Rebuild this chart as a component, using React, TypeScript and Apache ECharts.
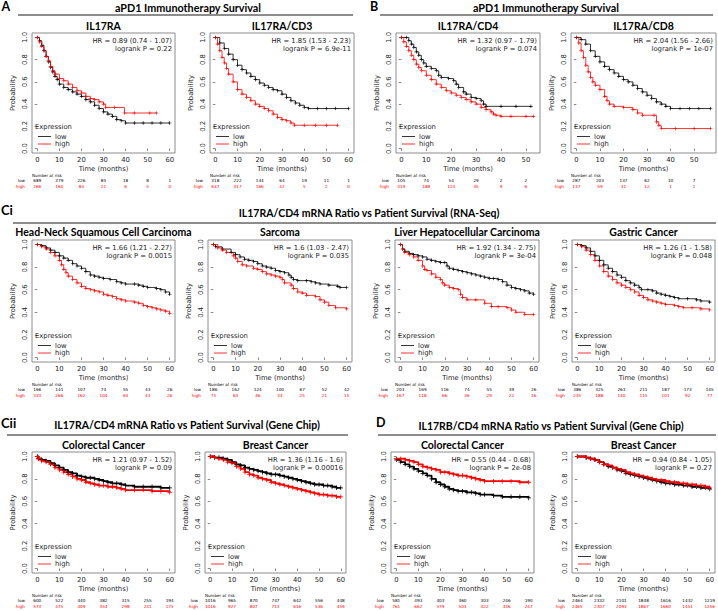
import React, { useEffect, useRef } from 'react';
import * as echarts from 'echarts';

// ---------- tick labels ----------
const ticks60 = [0, 10, 20, 30, 40, 50, 60];
const ticks50 = [0, 10, 20, 30, 40, 50];
const yTicks = [0, 0.2, 0.4, 0.6, 0.8, 1.0];

// ---------- A: aPD1 IL17RA ----------
const a1Low = [[0,1],[1,0.97],[2,0.93],[3,0.88],[4,0.83],[5,0.78],[6,0.73],[7,0.69],[8,0.65],[9,0.62],[10,0.58],[12,0.55],[14,0.53],[16,0.51],[18,0.49],[20,0.47],[22,0.44],[24,0.42],[26,0.39],[28,0.36],[30,0.33],[32,0.31],[34,0.29],[36,0.26],[38,0.25],[40,0.23],[44,0.23],[48,0.23],[52,0.23],[56,0.23],[60,0.23]];
const a1High = [[0,1],[1,0.96],[2,0.92],[3,0.88],[4,0.83],[5,0.79],[6,0.74],[7,0.7],[8,0.67],[10,0.63],[12,0.61],[14,0.58],[16,0.55],[18,0.52],[20,0.5],[22,0.47],[24,0.45],[26,0.44],[28,0.42],[30,0.4],[31,0.37],[35,0.37],[39.5,0.32],[44,0.32],[51,0.32],[54,0.32]];
const a1LowRisk = [689, 379, 226, 85, 18, 8, 1];
const a1HighRisk = [266, 160, 84, 21, 6, 5, 0];

// ---------- A: aPD1 IL17RA/CD3 ----------
const a2Low = [[0,1],[2,0.95],[4,0.9],[6,0.85],[8,0.8],[10,0.75],[12,0.71],[14,0.68],[16,0.65],[18,0.62],[20,0.59],[22,0.57],[24,0.55],[26,0.53],[28,0.52],[30,0.49],[32,0.46],[34,0.43],[36,0.41],[38,0.39],[40,0.37],[42,0.36],[46,0.36],[50,0.36],[54,0.36],[60,0.36]];
const a2High = [[0,1],[1,0.94],[2,0.88],[3,0.82],[4,0.77],[5,0.72],[6,0.67],[8,0.6],[10,0.53],[12,0.49],[14,0.46],[16,0.43],[18,0.4],[20,0.38],[22,0.36],[24,0.34],[26,0.31],[28,0.28],[30,0.26],[32,0.25],[34,0.23],[35.5,0.21],[40,0.21],[45,0.21],[50,0.21],[55,0.21]];
const a2LowRisk = [318, 222, 144, 64, 19, 11, 1];
const a2HighRisk = [637, 317, 166, 42, 5, 2, 0];

// ---------- B: aPD1 IL17RA/CD4 ----------
const b1Low = [[0,1],[2,1],[3,0.97],[4,0.94],[5,0.91],[6,0.87],[7,0.84],[8,0.8],[9,0.77],[10,0.74],[12,0.72],[14,0.7],[15,0.66],[16,0.64],[19,0.63],[21,0.61],[22,0.58],[23,0.55],[25,0.51],[26,0.49],[28,0.46],[30,0.45],[32,0.43],[33,0.4],[34,0.38],[40,0.38],[46,0.38],[52,0.38]];
const b1High = [[0,1],[1,0.96],[2,0.92],[3,0.88],[4,0.84],[5,0.8],[6,0.76],[7,0.73],[8,0.7],[10,0.66],[12,0.62],[14,0.58],[16,0.55],[18,0.52],[20,0.5],[22,0.48],[24,0.46],[26,0.44],[28,0.42],[30,0.4],[32,0.37],[34,0.35],[36,0.33],[37,0.31],[38,0.3],[40,0.29],[44,0.29],[50,0.29],[53,0.29]];
const b1LowRisk = [105, 74, 54, 29, 2, 2];
const b1HighRisk = [319, 188, 114, 45, 9, 6];

// ---------- B: aPD1 IL17RA/CD8 ----------
const b2Low = [[0,1],[2,0.98],[4,0.94],[6,0.88],[8,0.83],[10,0.78],[12,0.74],[14,0.71],[16,0.68],[18,0.65],[20,0.62],[22,0.6],[24,0.57],[26,0.54],[28,0.51],[30,0.48],[32,0.45],[34,0.42],[36,0.4],[38,0.38],[40,0.36],[44,0.36],[48,0.36],[52,0.36],[57,0.36]];
const b2High = [[0,1],[1,0.95],[2,0.88],[3,0.82],[4,0.75],[5,0.69],[6,0.64],[7,0.6],[8,0.57],[10,0.53],[12,0.47],[13,0.43],[14,0.4],[16,0.38],[20,0.37],[24,0.35],[26,0.32],[28,0.3],[33,0.3],[34,0.24],[35,0.21],[36,0.18],[42,0.18],[50,0.18],[57,0.18]];
const b2LowRisk = [287, 203, 137, 62, 10, 7];
const b2HighRisk = [137, 59, 31, 12, 1, 1];

// ---------- Ci: RNA-Seq ----------
const hnLow = [[0,1],[2,0.99],[4,0.97],[6,0.95],[8,0.93],[10,0.9],[12,0.88],[14,0.86],[16,0.83],[18,0.81],[20,0.79],[22,0.76],[24,0.73],[26,0.72],[28,0.71],[30,0.7],[33,0.69],[36,0.67],[38,0.66],[40,0.65],[44,0.65],[46,0.64],[48,0.63],[50,0.62],[54,0.61],[56,0.6],[58,0.58],[60,0.56]];
const hnHigh = [[0,1],[2,0.98],[4,0.96],[6,0.93],[8,0.9],[10,0.86],[11,0.82],[12,0.78],[13,0.75],[14,0.72],[16,0.69],[18,0.66],[20,0.63],[22,0.61],[24,0.6],[26,0.59],[28,0.58],[30,0.56],[32,0.55],[34,0.54],[36,0.52],[38,0.51],[40,0.5],[44,0.49],[46,0.48],[48,0.46],[50,0.45],[52,0.44],[54,0.43],[56,0.42],[58,0.41],[60,0.39]];
const hnLowRisk = [166, 141, 107, 74, 55, 43, 26];
const hnHighRisk = [333, 266, 162, 104, 64, 43, 26];

const saLow = [[0,1],[1,0.98],[4,0.96],[8,0.93],[10,0.91],[12,0.89],[14,0.87],[16,0.86],[18,0.85],[20,0.83],[22,0.81],[24,0.8],[26,0.79],[28,0.77],[30,0.76],[32,0.75],[34,0.73],[35,0.71],[36,0.69],[38,0.68],[42,0.68],[44,0.67],[46,0.66],[48,0.65],[52,0.64],[56,0.63],[57,0.62],[60,0.62]];
const saHigh = [[0,1],[2,0.97],[4,0.95],[6,0.93],[9,0.9],[10,0.88],[11,0.85],[13,0.82],[15,0.81],[18,0.79],[20,0.78],[22,0.76],[24,0.74],[26,0.73],[28,0.72],[30,0.71],[31,0.69],[32,0.66],[35,0.64],[36,0.61],[38,0.58],[40,0.57],[42,0.55],[46,0.54],[48,0.51],[50,0.49],[52,0.46],[55,0.44],[60,0.43]];
const saLowRisk = [186, 162, 124, 100, 67, 52, 42];
const saHighRisk = [73, 63, 46, 34, 25, 21, 15];

const liLow = [[0,1],[1,0.96],[2,0.94],[4,0.92],[6,0.91],[8,0.9],[10,0.89],[12,0.87],[14,0.86],[16,0.85],[18,0.84],[20,0.84],[21,0.81],[22,0.79],[24,0.78],[26,0.77],[28,0.76],[30,0.75],[32,0.74],[34,0.73],[36,0.72],[38,0.71],[40,0.7],[42,0.7],[44,0.69],[46,0.67],[48,0.64],[50,0.62],[52,0.61],[54,0.6],[56,0.59],[58,0.57],[60,0.56]];
const liHigh = [[0,1],[1,0.96],[2,0.93],[4,0.91],[6,0.89],[8,0.86],[10,0.81],[11,0.78],[12,0.77],[14,0.74],[16,0.71],[18,0.69],[19,0.66],[20,0.64],[22,0.62],[24,0.61],[26,0.6],[27,0.56],[28,0.53],[30,0.51],[34,0.51],[38,0.48],[41,0.45],[44,0.45],[48,0.44],[50,0.42],[52,0.4],[56,0.38],[60,0.38]];
const liLowRisk = [203, 169, 116, 74, 55, 39, 26];
const liHighRisk = [167, 118, 66, 36, 29, 22, 16];

const gaLow = [[0,1],[2,0.99],[4,0.97],[6,0.94],[8,0.9],[10,0.86],[12,0.82],[14,0.79],[16,0.76],[18,0.73],[20,0.71],[22,0.68],[24,0.66],[26,0.64],[28,0.62],[29,0.6],[32,0.6],[34,0.59],[36,0.57],[38,0.56],[40,0.55],[42,0.54],[44,0.53],[46,0.52],[50,0.52],[54,0.51],[56,0.5],[60,0.49]];
const gaHigh = [[0,1],[2,0.98],[4,0.95],[6,0.91],[8,0.86],[10,0.81],[12,0.76],[14,0.72],[16,0.69],[18,0.66],[20,0.64],[22,0.62],[24,0.6],[26,0.58],[28,0.55],[30,0.53],[32,0.51],[34,0.5],[36,0.49],[38,0.48],[40,0.47],[44,0.46],[46,0.45],[48,0.44],[52,0.44],[56,0.43],[60,0.42]];
const gaLowRisk = [386, 325, 263, 211, 187, 173, 145];
const gaHighRisk = [245, 188, 140, 115, 101, 92, 77];

// ---------- Cii: IL17RA/CD4 Gene Chip ----------
const ccLow = [[0,1],[0.5,0.98],[2,0.97],[4,0.96],[6,0.94],[8,0.92],[10,0.9],[12,0.88],[14,0.86],[16,0.85],[18,0.83],[20,0.82],[22,0.81],[24,0.81],[26,0.8],[28,0.79],[30,0.78],[32,0.77],[34,0.76],[36,0.76],[38,0.75],[40,0.74],[44,0.73],[48,0.73],[52,0.73],[56,0.72],[60,0.72]];
const ccHigh = [[0,1],[0.5,0.98],[2,0.96],[4,0.95],[6,0.93],[8,0.9],[10,0.88],[12,0.86],[14,0.84],[16,0.82],[18,0.8],[20,0.79],[22,0.77],[24,0.76],[26,0.75],[28,0.74],[30,0.74],[32,0.73],[34,0.73],[36,0.72],[38,0.71],[40,0.7],[44,0.7],[48,0.7],[52,0.69],[56,0.69],[60,0.68]];
const ccLowRisk = [600, 522, 440, 382, 315, 255, 194];
const ccHighRisk = [573, 475, 409, 354, 298, 231, 175];

const cbLow = [[0,1],[2,0.99],[4,0.99],[6,0.98],[8,0.97],[10,0.95],[12,0.93],[14,0.92],[16,0.9],[18,0.89],[20,0.88],[22,0.87],[24,0.86],[26,0.85],[28,0.84],[30,0.84],[32,0.83],[34,0.82],[36,0.81],[38,0.8],[40,0.79],[42,0.78],[44,0.77],[46,0.76],[48,0.75],[50,0.75],[52,0.74],[54,0.74],[56,0.73],[58,0.72],[60,0.72]];
const cbHigh = [[0,1],[2,0.99],[4,0.98],[6,0.97],[8,0.95],[10,0.94],[12,0.91],[14,0.89],[16,0.86],[18,0.84],[20,0.83],[22,0.81],[24,0.8],[26,0.79],[28,0.77],[30,0.76],[32,0.75],[34,0.74],[36,0.73],[38,0.72],[40,0.71],[42,0.7],[44,0.69],[46,0.68],[48,0.67],[50,0.66],[52,0.66],[54,0.65],[56,0.65],[58,0.64],[60,0.64]];
const cbLowRisk = [1016, 965, 870, 747, 642, 556, 448];
const cbHighRisk = [1016, 927, 807, 713, 616, 536, 459];

// ---------- D: IL17RB/CD4 Gene Chip ----------
const dcLow = [[0,0.97],[2,0.95],[4,0.93],[6,0.91],[8,0.89],[10,0.87],[12,0.85],[14,0.83],[16,0.8],[18,0.77],[20,0.75],[22,0.73],[24,0.71],[26,0.7],[28,0.69],[30,0.69],[32,0.68],[34,0.68],[36,0.67],[38,0.66],[40,0.66],[44,0.65],[48,0.64],[52,0.64],[56,0.64],[60,0.63]];
const dcHigh = [[0,0.98],[2,0.98],[4,0.97],[6,0.96],[8,0.95],[10,0.93],[12,0.91],[14,0.9],[16,0.89],[18,0.88],[20,0.86],[22,0.86],[24,0.85],[26,0.84],[28,0.83],[30,0.83],[32,0.82],[34,0.81],[36,0.8],[38,0.79],[40,0.78],[44,0.78],[48,0.78],[52,0.78],[56,0.77],[60,0.77]];
const dcLowRisk = [581, 493, 403, 360, 303, 246, 190];
const dcHighRisk = [761, 662, 579, 503, 422, 336, 247];

const dbLow = [[0,1],[4,0.99],[6,0.98],[8,0.97],[10,0.95],[12,0.93],[14,0.91],[16,0.9],[18,0.88],[20,0.87],[22,0.85],[24,0.84],[26,0.83],[28,0.82],[30,0.81],[32,0.8],[34,0.79],[36,0.78],[38,0.77],[40,0.76],[42,0.76],[44,0.75],[46,0.75],[48,0.74],[50,0.74],[52,0.73],[54,0.73],[56,0.72],[58,0.72],[60,0.71]];
const dbHigh = [[0,1],[4,0.99],[6,0.98],[8,0.97],[10,0.95],[12,0.93],[14,0.92],[16,0.9],[18,0.89],[20,0.88],[22,0.86],[24,0.85],[26,0.84],[28,0.83],[30,0.82],[32,0.81],[34,0.8],[36,0.79],[38,0.79],[40,0.78],[42,0.77],[44,0.77],[46,0.76],[48,0.76],[50,0.75],[52,0.75],[54,0.74],[56,0.74],[58,0.73],[60,0.72]];
const dbLowRisk = [2464, 2332, 2101, 1848, 1616, 1432, 1219];
const dbHighRisk = [2465, 2307, 2093, 1867, 1660, 1451, 1256];

// ---------- texts ----------
const panelTitles = ['IL17RA', 'IL17RA/CD3', 'IL17RA/CD4', 'IL17RA/CD8', 'Head-Neck Squamous Cell Carcinoma', 'Sarcoma', 'Liver Hepatocellular Carcinoma', 'Gastric Cancer', 'Colorectal Cancer', 'Breast Cancer', 'Colorectal Cancer', 'Breast Cancer'];
const hrTexts = ['HR = 0.89 (0.74 - 1.07)', 'HR = 1.85 (1.53 - 2.23)', 'HR = 1.32 (0.97 - 1.79)', 'HR = 2.04 (1.56 - 2.66)', 'HR = 1.66 (1.21 - 2.27)', 'HR = 1.6 (1.03 - 2.47)', 'HR = 1.92 (1.34 - 2.75)', 'HR = 1.26 (1 - 1.58)', 'HR = 1.21 (0.97 - 1.52)', 'HR = 1.36 (1.16 - 1.6)', 'HR = 0.55 (0.44 - 0.68)', 'HR = 0.94 (0.84 - 1.05)'];
const pTexts = ['logrank P = 0.22', 'logrank P = 6.9e-11', 'logrank P = 0.074', 'logrank P = 1e-07', 'logrank P = 0.0015', 'logrank P = 0.035', 'logrank P = 3e-04', 'logrank P = 0.048', 'logrank P = 0.09', 'logrank P = 0.00016', 'logrank P = 2e-08', 'logrank P = 0.27'];

const lowSeries = [a1Low, a2Low, b1Low, b2Low, hnLow, saLow, liLow, gaLow, ccLow, cbLow, dcLow, dbLow];
const highSeries = [a1High, a2High, b1High, b2High, hnHigh, saHigh, liHigh, gaHigh, ccHigh, cbHigh, dcHigh, dbHigh];
const lowRisks = [a1LowRisk, a2LowRisk, b1LowRisk, b2LowRisk, hnLowRisk, saLowRisk, liLowRisk, gaLowRisk, ccLowRisk, cbLowRisk, dcLowRisk, dbLowRisk];
const highRisks = [a1HighRisk, a2HighRisk, b1HighRisk, b2HighRisk, hnHighRisk, saHighRisk, liHighRisk, gaHighRisk, ccHighRisk, cbHighRisk, dcHighRisk, dbHighRisk];
const xMaxes = [60, 60, 53.5, 57, 60, 60, 60, 60, 60, 60, 60, 60];

// ---------- layout (pixel boxes: left, right, top, bottom) ----------
const boxes = [
  [32, 175, 33, 153], [210, 354, 33, 153], [396, 540, 33, 153], [571, 716, 33, 153],
  [32, 175, 240, 362], [208, 352, 240, 362], [395, 539, 240, 362], [572, 715, 240, 362],
  [32, 175, 452, 573], [205, 346, 452, 573], [391, 534, 452, 573], [572, 715, 452, 573],
];
const titleYs = [26, 26, 26, 26, 232, 232, 232, 232, 445, 445, 445, 445];

const FONT = 'DejaVu Sans';
const TFONT = 'Lato';
const PLUS = 'path://M-1,-0.18H1V0.18H-1Z M-0.18,-1H0.18V1H-0.18Z';

function txt(text: string, x: number, y: number, opts: any = {}) {
  const align = opts.align || 'left';
  return {
    type: 'text',
    silent: true,
    z: 10,
    style: {
      text, x, y,
      fill: opts.fill || '#000',
      fontSize: opts.size || 6.8,
      fontFamily: opts.family || FONT,
      fontWeight: opts.weight || 'normal',
      textAlign: align, align,
      textVerticalAlign: 'middle', verticalAlign: 'middle',
    },
  };
}
function seg(x1: number, y1: number, x2: number, y2: number, stroke: string, w: number) {
  return { type: 'line', silent: true, z: 10, shape: { x1, y1, x2, y2 }, style: { stroke, lineWidth: w } };
}

function buildOption() {
  const grid: any[] = [];
  const xAxis: any[] = [];
  const yAxis: any[] = [];
  const series: any[] = [];
  const graphic: any[] = [];

  // section headers
  graphic.push(txt('A', 1.5, 6, { weight: 'bold', family: TFONT, size: 12.5 }));
  graphic.push(txt('aPD1 Immunotherapy Survival', 188, 7, { weight: 'bold', family: TFONT, size: 10.8, align: 'center' }));
  graphic.push(seg(18, 15, 353, 15, '#000', 0.9));
  graphic.push(txt('B', 370, 6, { weight: 'bold', family: TFONT, size: 12.5 }));
  graphic.push(txt('aPD1 Immunotherapy Survival', 546, 7, { weight: 'bold', family: TFONT, size: 10.8, align: 'center' }));
  graphic.push(seg(380, 15, 713, 15, '#000', 0.9));

  graphic.push(txt('Ci', 1, 210, { weight: 'bold', family: TFONT, size: 13 }));
  graphic.push(txt('IL17RA/CD4 mRNA Ratio vs Patient Survival (RNA-Seq)', 369, 213, { weight: 'bold', family: TFONT, size: 10.5, align: 'center' }));
  graphic.push(seg(13, 223, 716, 223, '#000', 0.9));

  graphic.push(txt('Cii', 1, 423, { weight: 'bold', family: TFONT, size: 13 }));
  graphic.push(txt('IL17RA/CD4 mRNA Ratio vs Patient Survival (Gene Chip)', 187, 425, { weight: 'bold', family: TFONT, size: 10.5, align: 'center' }));
  graphic.push(seg(7, 435, 348, 435, '#000', 0.9));
  graphic.push(txt('D', 376, 422, { weight: 'bold', family: TFONT, size: 12.5 }));
  graphic.push(txt('IL17RB/CD4 mRNA Ratio vs Patient Survival (Gene Chip)', 551, 426, { weight: 'bold', family: TFONT, size: 10.5, align: 'center' }));
  graphic.push(seg(378, 435, 716, 435, '#000', 0.9));

  boxes.forEach((b, i) => {
    const [L, R, T, B] = b;
    const M = xMaxes[i];
    const ticks = M >= 60 ? ticks60 : ticks50;
    const lowRisk = lowRisks[i];
    const highRisk = highRisks[i];
    const chip = i >= 8;
    grid.push({
      left: L, top: T, width: R - L, height: B - T, show: true,
      borderColor: '#707070', borderWidth: 0.8, backgroundColor: 'rgba(0,0,0,0)',
      outerBoundsMode: 'none', containLabel: false,
    });
    const xmin = -0.04 * M;
    const xmax = 1.04 * M;
    const xi = xAxis.length;
    xAxis.push({
      gridIndex: i, type: 'value', min: xmin, max: xmax, position: 'bottom',
      axisLine: { show: false }, splitLine: { show: false },
      axisTick: { show: true, inside: false, length: 2.5, customValues: ticks, lineStyle: { color: '#555', width: 0.7 } },
      axisLabel: { customValues: ticks, fontSize: 6.8, fontFamily: FONT, color: '#222', margin: 3 },
      name: 'Time (months)', nameLocation: 'middle', nameGap: 12,
      nameTextStyle: { fontSize: 6.8, fontFamily: FONT, color: '#222' },
    });
    xAxis.push({
      gridIndex: i, type: 'value', min: xmin, max: xmax, position: 'bottom',
      axisLine: { show: false }, splitLine: { show: false }, axisTick: { show: false },
      axisLabel: {
        customValues: ticks, fontSize: 4.2, fontFamily: FONT, color: '#000', margin: 25.5,
        formatter: (v: number) => String(lowRisk[Math.round(v / 10)]),
      },
    });
    xAxis.push({
      gridIndex: i, type: 'value', min: xmin, max: xmax, position: 'bottom',
      axisLine: { show: false }, splitLine: { show: false }, axisTick: { show: false },
      axisLabel: {
        customValues: ticks, fontSize: 4.2, fontFamily: FONT, color: '#ff0000', margin: 31,
        formatter: (v: number) => String(highRisk[Math.round(v / 10)]),
      },
    });
    yAxis.push({
      gridIndex: i, type: 'value', min: -0.04, max: 1.04,
      axisLine: { show: false }, splitLine: { show: false },
      axisTick: { show: true, inside: false, length: 2.5, customValues: yTicks, lineStyle: { color: '#555', width: 0.7 } },
      axisLabel: {
        customValues: yTicks, rotate: 90, fontSize: 6.8, fontFamily: FONT, color: '#222', margin: 4,
        formatter: (v: number) => v.toFixed(1),
      },
      name: 'Probability', nameLocation: 'middle', nameGap: 16, nameRotate: 90,
      nameTextStyle: { fontSize: 6.8, fontFamily: FONT, color: '#222' },
    });
    const common = {
      type: 'line', xAxisIndex: xi, yAxisIndex: i, step: 'end', symbol: PLUS,
      symbolSize: chip ? 4.5 : 3.5, showSymbol: true, showAllSymbol: true, silent: true,
      animation: false, clip: true,
    };
    const lw = chip ? 1.8 : 0.8;
    series.push({ ...common, name: 'low' + i, data: lowSeries[i], lineStyle: { color: '#000', width: lw }, itemStyle: { color: '#000' } });
    series.push({ ...common, name: 'high' + i, data: highSeries[i], lineStyle: { color: '#ff0000', width: lw }, itemStyle: { color: '#ff0000' } });

    // panel title
    graphic.push(txt(panelTitles[i], (L + R) / 2, titleYs[i], { weight: 'bold', family: TFONT, size: 10.5, align: 'center' }));
    // HR / logrank
    graphic.push(txt(hrTexts[i], R - 3, T + 8, { align: 'right', fill: '#222' }));
    graphic.push(txt(pTexts[i], R - 3, T + 15.5, { align: 'right', fill: '#222' }));
    // legend
    graphic.push(txt('Expression', L + 3, B - 26, { fill: '#222' }));
    graphic.push(seg(L + 6, B - 16.5, L + 19, B - 16.5, '#000', 0.8));
    graphic.push(txt('low', L + 23, B - 16.5, { fill: '#222' }));
    graphic.push(seg(L + 6, B - 9, L + 19, B - 9, '#ff0000', 0.8));
    graphic.push(txt('high', L + 23, B - 9, { fill: '#222' }));
    // number at risk
    graphic.push(txt('Number at risk', L, B + 22.5, { size: 4 }));
    graphic.push(txt('low', L - 7, B + 27.8, { size: 4.2, align: 'right' }));
    graphic.push(txt('high', L - 7, B + 33.3, { size: 4.2, align: 'right', fill: '#ff0000' }));
  });

  return {
    animation: false,
    backgroundColor: '#fff',
    textStyle: { fontFamily: FONT },
    grid, xAxis, yAxis, series, graphic,
  };
}

export default function App() {
  const ref = useRef<HTMLDivElement>(null);
  useEffect(() => {
    const chart = echarts.init(ref.current as HTMLDivElement, null, { renderer: 'svg', width: 718, height: 611 });
    chart.setOption(buildOption() as any);
    return () => chart.dispose();
  }, []);
  return <div ref={ref} style={{ position: 'fixed', left: 0, top: 0, width: 718, height: 611, background: '#fff' }} />;
}
